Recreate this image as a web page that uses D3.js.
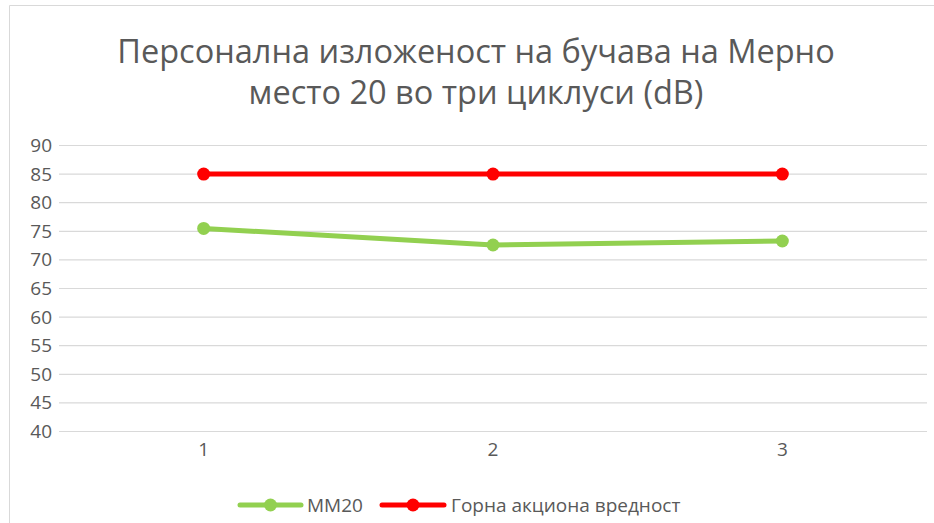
<!DOCTYPE html>
<html>
<head>
<meta charset="utf-8">
<script src="https://cdn.jsdelivr.net/npm/d3@7"></script>
<style>
  html, body { margin: 0; padding: 0; background: #fff; }
  svg { display: block; }
  text { font-family: "Open Sans", "Noto Sans", sans-serif; fill: #595959; }
</style>
</head>
<body>
<svg id="chart" width="934" height="523"></svg>
<script>
// Measurement cycles and noise levels (dB)
const cycles = ["1", "2", "3"];
const mm20 = [75.5, 72.6, 73.3];
const actionLimit = [85, 85, 85];
const yTicks = [40, 45, 50, 55, 60, 65, 70, 75, 80, 85, 90];
const titleLines = ["Персонална изложеност на бучава на Мерно", "место 20 во три циклуси (dB)"];
const seriesNames = ["MM20", "Горна акциона вредност"];
const seriesColors = ["#92D050", "#FF0000"];

const svg = d3.select("#chart");

// chart frame (only top and left edges fall inside the page)
svg.append("path")
  .attr("d", "M9.5,523 V5.5 H934")
  .attr("fill", "none")
  .attr("stroke", "#D9D9D9")
  .attr("stroke-width", 1);

const plot = { left: 59, right: 927, top: 145.5, bottom: 431.5 };

const x = d3.scaleBand().domain(cycles).range([plot.left, plot.right]);
const y = d3.scaleLinear().domain([40, 90]).range([plot.bottom, plot.top]);

// title
svg.append("text")
  .attr("text-anchor", "middle")
  .style("font-size", "32.5px")
  .selectAll("tspan").data(titleLines).join("tspan")
  .attr("x", 476)
  .attr("y", (d, i) => 63 + i * 41)
  .text(d => d);

// horizontal gridlines
svg.append("g")
  .selectAll("line").data(yTicks).join("line")
  .attr("x1", plot.left).attr("x2", plot.right)
  .attr("y1", d => y(d)).attr("y2", d => y(d))
  .attr("stroke", "#D9D9D9").attr("stroke-width", 1.2);

// y axis labels
const yAxis = d3.axisLeft(y).tickValues(yTicks).tickSize(0).tickPadding(7);
const gy = svg.append("g").attr("transform", `translate(${plot.left},0)`).call(yAxis);
gy.select(".domain").remove();
gy.selectAll("text").style("font-size", "19px").attr("fill", "#595959")
  .style("font-family", "'Open Sans', sans-serif");

// x axis labels
const xAxis = d3.axisBottom(x).tickSize(0).tickPadding(11.5);
const gx = svg.append("g").attr("transform", `translate(0,${plot.bottom})`).call(xAxis);
gx.select(".domain").remove();
gx.selectAll("text").style("font-size", "19px").attr("fill", "#595959")
  .style("font-family", "'Open Sans', sans-serif");

const cx = d => x(d) + x.bandwidth() / 2;
const line = d3.line().x(d => cx(d.c)).y(d => y(d.v));

const series = [mm20, actionLimit].map((vals, i) => ({
  name: seriesNames[i],
  color: seriesColors[i],
  points: vals.map((v, j) => ({ c: cycles[j], v }))
}));

series.forEach(s => {
  svg.append("path")
    .datum(s.points)
    .attr("d", line)
    .attr("fill", "none")
    .attr("stroke", s.color)
    .attr("stroke-width", 5)
    .attr("stroke-linejoin", "round")
    .attr("stroke-linecap", "round");
  svg.append("g").selectAll("circle").data(s.points).join("circle")
    .attr("cx", d => cx(d.c)).attr("cy", d => y(d.v))
    .attr("r", 6.5)
    .attr("fill", s.color);
});

// legend
const legendItems = [
  { x1: 240, x2: 301, tx: 307 },
  { x1: 382, x2: 444, tx: 451 }
];
const lg = svg.append("g");
series.forEach((s, i) => {
  const it = legendItems[i];
  lg.append("line")
    .attr("x1", it.x1).attr("x2", it.x2).attr("y1", 505).attr("y2", 505)
    .attr("stroke", s.color).attr("stroke-width", 5).attr("stroke-linecap", "round");
  lg.append("circle")
    .attr("cx", (it.x1 + it.x2) / 2).attr("cy", 505).attr("r", 6.5)
    .attr("fill", s.color);
  lg.append("text")
    .attr("x", it.tx).attr("y", 512)
    .style("font-size", "19px")
    .text(s.name);
});
</script>
</body>
</html>
